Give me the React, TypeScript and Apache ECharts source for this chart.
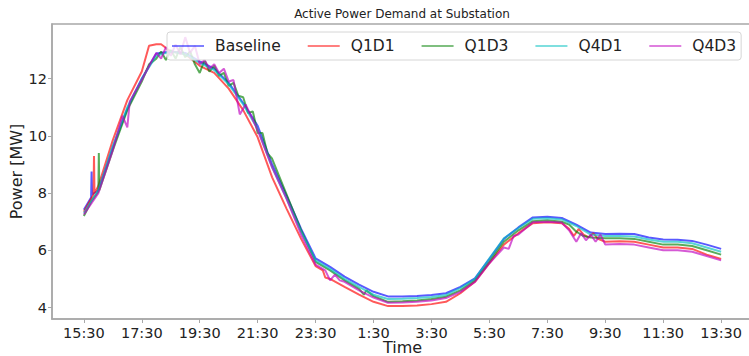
import React, { useEffect, useRef } from "react";
import * as echarts from "echarts";

type Pt = [string, number];

const seriesNames = ["Baseline", "Q1D1", "Q1D3", "Q4D1", "Q4D3"];
const lineColors = [
  "rgba(0,0,255,0.65)",
  "rgba(255,0,0,0.65)",
  "rgba(0,128,0,0.65)",
  "rgba(0,191,191,0.65)",
  "rgba(191,0,191,0.65)",
];
const legendColors = [
  "rgba(0,0,255,0.5)",
  "rgba(255,0,0,0.5)",
  "rgba(0,128,0,0.5)",
  "rgba(0,191,191,0.5)",
  "rgba(191,0,191,0.5)",
];

const xTickHours = [0, 2, 4, 6, 8, 10, 12, 14, 16, 18, 20, 22];
const yTicks = [4, 6, 8, 10, 12];

const baseline: Pt[] = [
  ["15:30", 7.42], ["15:45", 7.85], ["15:46", 8.75], ["15:47", 7.95], ["16:00", 8.1],
  ["16:30", 9.6], ["17:00", 10.95], ["17:30", 12.0], ["18:00", 12.88], ["18:30", 12.95],
  ["19:00", 12.9], ["19:30", 12.6], ["20:00", 12.35], ["20:30", 11.85], ["21:00", 11.15],
  ["21:30", 10.35], ["22:00", 9.0], ["22:30", 7.9], ["23:00", 6.75], ["23:30", 5.72],
  ["00:00", 5.42], ["00:30", 5.08], ["01:00", 4.8], ["01:30", 4.55], ["02:00", 4.39],
  ["02:30", 4.39], ["03:00", 4.4], ["03:30", 4.44], ["04:00", 4.5], ["04:30", 4.72],
  ["05:00", 5.02], ["05:30", 5.7], ["06:00", 6.4], ["06:30", 6.8], ["07:00", 7.15],
  ["07:30", 7.17], ["08:00", 7.13], ["08:30", 6.9], ["09:00", 6.62], ["09:30", 6.57],
  ["10:00", 6.58], ["10:30", 6.57], ["11:00", 6.45], ["11:30", 6.38], ["12:00", 6.37],
  ["12:30", 6.33], ["13:00", 6.2], ["13:30", 6.05],
];

const q1d1: Pt[] = [
  ["15:30", 7.35], ["15:50", 7.95], ["15:51", 9.3], ["15:52", 8.0], ["16:00", 8.25],
  ["16:30", 9.85], ["17:00", 11.25], ["17:30", 12.25], ["17:45", 13.15], ["18:00", 13.2],
  ["18:10", 13.2], ["18:30", 12.95], ["19:00", 12.85], ["19:30", 12.45], ["20:00", 12.2],
  ["20:30", 11.65], ["21:00", 10.9], ["21:30", 9.95], ["22:00", 8.55], ["22:30", 7.45],
  ["23:00", 6.4], ["23:30", 5.45], ["23:45", 5.3], ["23:50", 5.05], ["00:00", 5.0],
  ["00:30", 4.72], ["01:00", 4.45], ["01:30", 4.2], ["02:00", 4.05], ["02:30", 4.05],
  ["03:00", 4.07], ["03:30", 4.12], ["04:00", 4.2], ["04:30", 4.5], ["05:00", 4.9],
  ["05:30", 5.55], ["06:00", 6.2], ["06:30", 6.6], ["07:00", 6.95], ["07:30", 6.98],
  ["08:00", 6.95], ["08:15", 6.75], ["08:25", 6.5], ["08:35", 6.75], ["08:45", 6.55],
  ["08:55", 6.45], ["09:05", 6.6], ["09:15", 6.4], ["09:30", 6.3], ["10:00", 6.32],
  ["10:30", 6.3], ["11:00", 6.2], ["11:30", 6.1], ["12:00", 6.1], ["12:30", 6.05],
  ["13:00", 5.85], ["13:30", 5.7],
];

const q1d3: Pt[] = [
  ["15:30", 7.2], ["15:45", 7.7], ["16:00", 8.05], ["16:01", 9.4], ["16:02", 8.1],
  ["16:30", 9.5], ["17:00", 10.9], ["17:30", 11.9], ["17:45", 12.5], ["18:00", 12.7],
  ["18:10", 12.95], ["18:20", 12.65], ["18:30", 13.0], ["18:40", 12.7], ["18:50", 13.1],
  ["19:00", 12.75], ["19:10", 12.95], ["19:20", 12.5], ["19:30", 12.2], ["19:40", 12.65],
  ["19:50", 12.25], ["20:00", 12.45], ["20:10", 12.1], ["20:20", 12.2], ["20:30", 11.75],
  ["20:40", 11.85], ["20:50", 11.4], ["21:00", 11.35], ["21:10", 10.8], ["21:20", 10.85],
  ["21:30", 10.1], ["21:40", 10.1], ["21:50", 9.4], ["22:00", 9.2], ["22:30", 7.95],
  ["23:00", 6.7], ["23:30", 5.6], ["00:00", 5.3], ["00:30", 4.95], ["01:00", 4.65],
  ["01:10", 4.45], ["01:15", 4.6], ["01:30", 4.4], ["02:00", 4.2], ["02:30", 4.22],
  ["03:00", 4.25], ["03:30", 4.3], ["04:00", 4.38], ["04:30", 4.6], ["05:00", 4.95],
  ["05:30", 5.6], ["06:00", 6.3], ["06:30", 6.7], ["07:00", 7.02], ["07:30", 7.05],
  ["08:00", 7.0], ["08:15", 6.9], ["08:30", 6.65], ["08:45", 6.5], ["09:00", 6.45],
  ["09:30", 6.42], ["10:00", 6.42], ["10:30", 6.4], ["11:00", 6.3], ["11:30", 6.2],
  ["12:00", 6.2], ["12:30", 6.15], ["13:00", 6.0], ["13:30", 5.85],
];

const q4d1: Pt[] = [
  ["15:30", 7.3], ["16:00", 8.1], ["16:30", 9.65], ["17:00", 11.0], ["17:30", 12.0],
  ["18:00", 12.8], ["18:30", 12.95], ["19:00", 12.85], ["19:30", 12.55], ["20:00", 12.3],
  ["20:30", 11.8], ["21:00", 11.1], ["21:30", 10.25], ["22:00", 8.9], ["22:30", 7.8],
  ["23:00", 6.65], ["23:30", 5.65], ["00:00", 5.35], ["00:30", 5.0], ["01:00", 4.72],
  ["01:30", 4.45], ["02:00", 4.3], ["02:30", 4.31], ["03:00", 4.33], ["03:30", 4.37],
  ["04:00", 4.44], ["04:30", 4.68], ["05:00", 5.0], ["05:30", 5.72], ["06:00", 6.42],
  ["06:30", 6.78], ["07:00", 7.1], ["07:30", 7.12], ["08:00", 7.08], ["08:30", 6.85],
  ["09:00", 6.55], ["09:30", 6.5], ["10:00", 6.5], ["10:30", 6.48], ["11:00", 6.38],
  ["11:30", 6.3], ["12:00", 6.3], ["12:30", 6.25], ["13:00", 6.1], ["13:30", 5.95],
];

const q4d3: Pt[] = [
  ["15:30", 7.25], ["16:00", 8.0], ["16:30", 9.5], ["16:50", 10.7], ["17:00", 10.3],
  ["17:05", 11.2], ["17:30", 11.95], ["17:50", 12.6], ["18:00", 12.9], ["18:10", 12.7],
  ["18:20", 13.1], ["18:30", 12.8], ["18:40", 13.2], ["18:50", 12.85], ["19:00", 13.45],
  ["19:10", 12.9], ["19:20", 13.15], ["19:30", 12.5], ["19:40", 12.65], ["19:50", 12.35],
  ["20:00", 12.5], ["20:10", 12.2], ["20:20", 12.35], ["20:30", 11.9], ["20:40", 11.95],
  ["20:53", 10.75], ["21:05", 11.1], ["21:30", 10.2], ["22:00", 8.9], ["22:30", 7.8],
  ["23:00", 6.55], ["23:30", 5.5], ["23:50", 5.3], ["00:00", 4.95], ["00:10", 5.15],
  ["00:20", 4.95], ["00:30", 4.9], ["01:00", 4.6], ["01:30", 4.35], ["02:00", 4.17],
  ["02:30", 4.18], ["03:00", 4.2], ["03:30", 4.25], ["04:00", 4.33], ["04:30", 4.55],
  ["05:00", 4.9], ["05:30", 5.55], ["06:00", 6.1], ["06:10", 6.05], ["06:20", 6.5],
  ["06:30", 6.55], ["07:00", 6.98], ["07:30", 7.0], ["08:00", 6.97], ["08:15", 6.7],
  ["08:30", 6.3], ["08:40", 6.6], ["08:50", 6.35], ["09:00", 6.55], ["09:10", 6.3],
  ["09:20", 6.55], ["09:30", 6.2], ["10:00", 6.22], ["10:30", 6.2], ["11:00", 6.1],
  ["11:30", 6.0], ["12:00", 6.0], ["12:30", 5.95], ["13:00", 5.8], ["13:30", 5.65],
];

const allSeries = [baseline, q1d1, q1d3, q4d1, q4d3];

function toHours(t: string): number {
  const [hh, mm] = t.split(":").map(Number);
  let h = hh + mm / 60 - 15.5;
  if (h < 0) h += 24;
  return h;
}

function clockLabel(h: number): string {
  const total = Math.round((h + 15.5) * 60) % (24 * 60);
  const hh = Math.floor(total / 60);
  const mm = total % 60;
  return `${hh}:${mm.toString().padStart(2, "0")}`;
}

const FONT = "DejaVu Sans";

export default function App() {
  const ref = useRef<HTMLDivElement>(null);
  useEffect(() => {
    if (!ref.current) return;
    const chart = echarts.init(ref.current, undefined, { renderer: "svg" });
    chart.setOption({
      animation: false,
      backgroundColor: "#ffffff",
      title: {
        text: "Active Power Demand at Substation",
        left: 402,
        textAlign: "center",
        top: 8,
        padding: 0,
        textStyle: { fontFamily: FONT, fontSize: 12, fontWeight: "normal", color: "#222" },
      },
      legend: {
        data: seriesNames.map((n, i) => ({ name: n, itemStyle: { color: legendColors[i] } })),
        left: 167,
        top: 32,
        padding: [6, 5, 6, 5],
        itemWidth: 32,
        itemHeight: 2,
        itemGap: 27,
        icon: "rect",
        backgroundColor: "rgba(255,255,255,0.8)",
        borderColor: "#d6d6d6",
        borderWidth: 1,
        borderRadius: 3,
        textStyle: { fontFamily: FONT, fontSize: 15.5, color: "#222", padding: [0, 0, 0, 6] },
      },
      grid: {
        left: 52,
        top: 24,
        right: 3,
        bottom: 37,
        outerBoundsMode: "none",
        containLabel: false,
        show: true,
        borderColor: "#a8a8a8",
        borderWidth: 1.5,
        backgroundColor: "transparent",
      },
      xAxis: {
        type: "value",
        min: -1.1,
        max: 23.1,
        name: "Time",
        nameLocation: "middle",
        nameGap: 20,
        nameMoveOverlap: false,
        nameTextStyle: { fontFamily: FONT, fontSize: 16, color: "#222" },
        axisLine: { show: true, onZero: false, lineStyle: { color: "#a8a8a8", width: 1.5 } },
        axisTick: { show: true, length: 4, customValues: xTickHours, lineStyle: { color: "#a8a8a8" } },
        axisLabel: {
          customValues: xTickHours,
          margin: 6,
          formatter: (v: number) => clockLabel(v),
          fontFamily: FONT,
          fontSize: 14.5,
          color: "#222",
        },
        splitLine: { show: false },
      },
      yAxis: {
        type: "value",
        min: 3.6,
        max: 13.91,
        name: "Power [MW]",
        nameLocation: "middle",
        nameGap: 28,
        nameMoveOverlap: false,
        nameTextStyle: { fontFamily: FONT, fontSize: 16, color: "#222" },
        axisLine: { show: true, onZero: false, lineStyle: { color: "#a8a8a8", width: 1.5 } },
        axisTick: { show: true, length: 4, customValues: yTicks, lineStyle: { color: "#a8a8a8" } },
        axisLabel: {
          customValues: yTicks,
          margin: 5,
          fontFamily: FONT,
          fontSize: 14.5,
          color: "#222",
        },
        splitLine: { show: false },
      },
      series: allSeries.map((pts, i) => ({
        name: seriesNames[i],
        type: "line",
        showSymbol: false,
        symbol: "none",
        color: lineColors[i],
        lineStyle: { width: 2, color: lineColors[i] },
        data: pts.map(([t, v]) => [toHours(t), v]),
      })),
    });
    return () => chart.dispose();
  }, []);
  return (
    <div
      ref={ref}
      style={{ position: "fixed", left: 0, top: 0, width: 756, height: 356, background: "#fff" }}
    />
  );
}
